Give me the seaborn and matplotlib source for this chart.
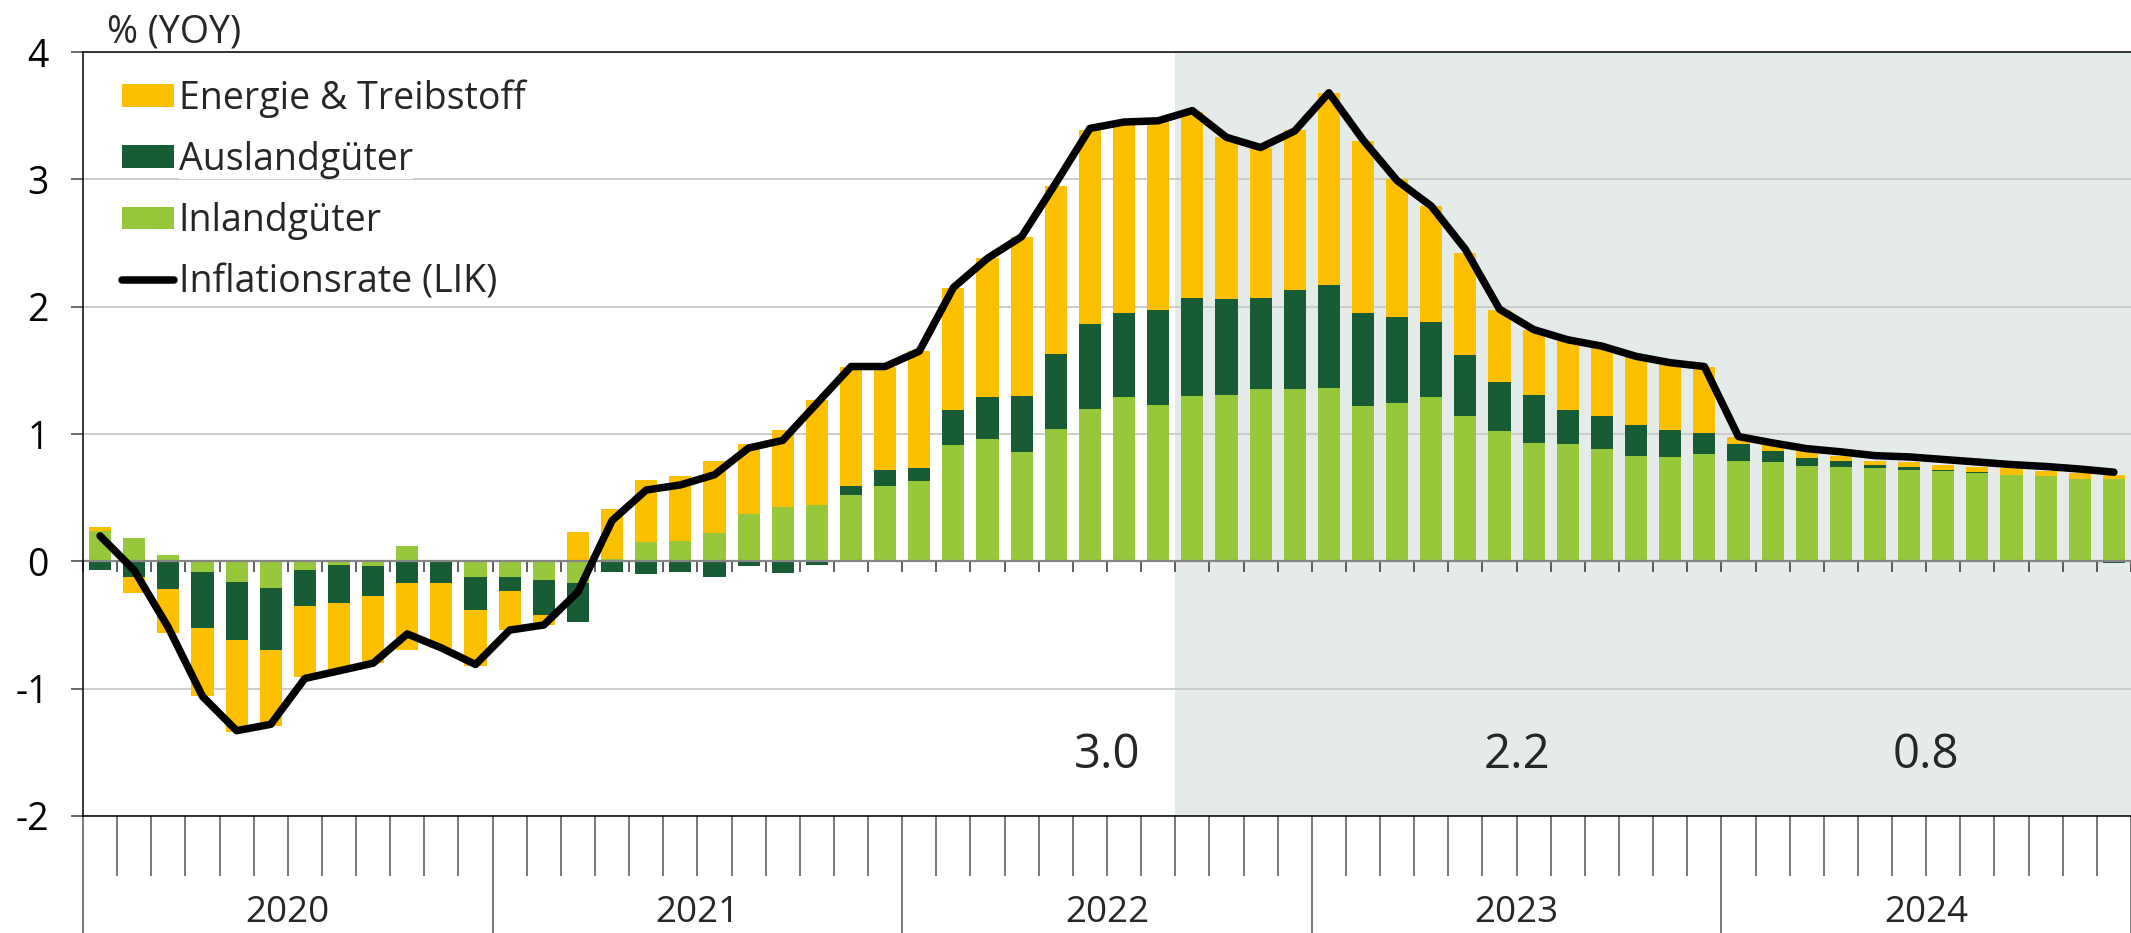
import numpy as np
import pandas as pd
import seaborn as sns
import matplotlib.pyplot as plt
from matplotlib.patches import Patch
from matplotlib.lines import Line2D

sns.set_theme(style='white')
plt.rcParams['font.family'] = ['Open Sans', 'DejaVu Sans']
plt.rcParams['axes.unicode_minus'] = False

# monthly contributions to CPI inflation, Jan 2020 - Dec 2024 (% yoy)
months = pd.date_range('2020-01-01', periods=60, freq='MS')
inland = [0.24, 0.18, 0.05, -0.08, -0.16, -0.21, -0.07, -0.03, -0.04, 0.12, 0.00, -0.12,
          -0.12, -0.15, -0.17, 0.02, 0.15, 0.16, 0.22, 0.37, 0.43, 0.44, 0.52, 0.59,
          0.63, 0.91, 0.96, 0.86, 1.04, 1.20, 1.29, 1.23, 1.30, 1.31, 1.35, 1.35,
          1.36, 1.22, 1.24, 1.29, 1.14, 1.02, 0.93, 0.92, 0.88, 0.83, 0.82, 0.84,
          0.79, 0.78, 0.75, 0.74, 0.73, 0.72, 0.71, 0.69, 0.68, 0.67, 0.65, 0.65]
ausland = [-0.07, -0.12, -0.22, -0.44, -0.46, -0.49, -0.28, -0.30, -0.23, -0.17, -0.17, -0.26,
           -0.11, -0.27, -0.31, -0.08, -0.10, -0.08, -0.12, -0.04, -0.09, -0.03, 0.07, 0.13,
           0.10, 0.28, 0.33, 0.44, 0.59, 0.66, 0.66, 0.74, 0.77, 0.75, 0.72, 0.78,
           0.81, 0.73, 0.68, 0.59, 0.48, 0.39, 0.38, 0.27, 0.26, 0.24, 0.21, 0.17,
           0.13, 0.09, 0.06, 0.05, 0.03, 0.02, 0.01, 0.01, 0.00, 0.00, 0.00, -0.01]
energie = [0.03, -0.13, -0.34, -0.54, -0.72, -0.59, -0.56, -0.52, -0.53, -0.53, -0.51, -0.44,
           -0.31, -0.08, 0.23, 0.39, 0.49, 0.51, 0.57, 0.55, 0.60, 0.83, 0.94, 0.81,
           0.92, 0.96, 1.09, 1.25, 1.32, 1.53, 1.49, 1.49, 1.46, 1.27, 1.18, 1.26,
           1.51, 1.35, 1.08, 0.91, 0.80, 0.56, 0.51, 0.55, 0.54, 0.54, 0.53, 0.52,
           0.06, 0.05, 0.07, 0.04, 0.03, 0.04, 0.04, 0.04, 0.05, 0.04, 0.04, 0.03]
lik = [0.20, -0.07, -0.52, -1.06, -1.33, -1.28, -0.92, -0.86, -0.80, -0.57, -0.68, -0.81,
       -0.54, -0.50, -0.24, 0.32, 0.56, 0.60, 0.68, 0.89, 0.95, 1.24, 1.53, 1.53,
       1.65, 2.15, 2.38, 2.55, 2.97, 3.40, 3.45, 3.46, 3.54, 3.33, 3.25, 3.38,
       3.68, 3.31, 2.99, 2.79, 2.45, 1.98, 1.82, 1.74, 1.69, 1.61, 1.56, 1.53,
       0.98, 0.93, 0.885, 0.86, 0.83, 0.82, 0.80, 0.78, 0.76, 0.745, 0.725, 0.70]
years = ['2020', '2021', '2022', '2023', '2024']
avg_years = ['2022', '2023', '2024']
avg_labels = ['3.0', '2.2', '0.8']
forecast_start = '2022-09'

series = [('Inlandgüter', inland, '#97C83C'),
          ('Auslandgüter', ausland, '#175C35'),
          ('Energie & Treibstoff', energie, '#FDC000')]

df = pd.DataFrame({'month': months, 'lik': lik})
df['pos'] = np.arange(len(df))
x = df['pos'].values

fig = plt.figure(figsize=(21.31, 9.33), dpi=100)
ax = fig.add_axes([83 / 2131, 1 - 816 / 933, 1 - 83 / 2131, (816 - 52) / 933])

# forecast shading
fc_idx = int(np.where(df['month'] == pd.Timestamp(forecast_start))[0][0])
ax.axvspan(fc_idx - 0.5, len(df) - 0.5, color='#E5EBE8', lw=0, zorder=0)

# stacked bars, positives up and negatives down
pos_bottom = np.zeros(len(df))
neg_bottom = np.zeros(len(df))
for name, vals, col in series:
    v = np.array(vals)
    bottom = np.where(v >= 0, pos_bottom, neg_bottom)
    ax.bar(x, v, bottom=bottom, width=0.65, color=col, lw=0, zorder=2)
    pos_bottom += np.where(v >= 0, v, 0)
    neg_bottom += np.where(v < 0, v, 0)

ax.axhline(0, color='#858585', lw=1.6, zorder=2.5)

sns.lineplot(data=df, x='pos', y='lik', ax=ax, color='black', lw=5.4,
             zorder=3, legend=False, solid_capstyle='round')

ax.set_xlim(-0.5, 59.1)
ax.set_ylim(-2, 4)
ax.set_xlabel('')
ax.set_ylabel('')

# y axis
ax.set_yticks(range(-2, 5))
ax.yaxis.grid(True, color='#C8C8C8', lw=1.3)
ax.xaxis.grid(False)
ax.set_axisbelow(True)
ax.tick_params(axis='y', left=True, length=8.6, width=1.1, color='#444444',
               labelsize=27, pad=16, labelcolor='black')

# x axis: year separators (long) and month ticks (short)
bounds = np.arange(-0.5, len(df), 1)
ax.set_xticks(bounds[::12])
ax.set_xticks(bounds, minor=True)
ax.tick_params(axis='x', which='major', bottom=True, length=92, width=1.1,
               color='#555555', labelbottom=False)
ax.tick_params(axis='x', which='minor', bottom=True, length=43, width=1.1,
               color='#555555')

for side in ['left', 'top', 'bottom']:
    ax.spines[side].set_visible(True)
    ax.spines[side].set_color('black')
    ax.spines[side].set_linewidth(1.1)
ax.spines['right'].set_visible(False)

# small month ticks hanging below the zero line
sec = ax.secondary_xaxis(1 / 3)
sec.set_xticks(bounds)
sec.tick_params(axis='x', length=8, width=1.1, color='#333333',
                labelbottom=False, labeltop=False)
for s in sec.spines.values():
    s.set_visible(False)

# year labels
for k, yr in enumerate(years):
    ax.text(12 * k + 5.5, -(922 - 816) / 764, yr, transform=ax.get_xaxis_transform(),
            ha='center', va='baseline', fontsize=26.5)

# annual averages
for yr, lab in zip(avg_years, avg_labels):
    k = years.index(yr)
    ax.text(12 * k + 5.5, -1.52, lab, ha='center', va='center', fontsize=34)

ax.text(0.0117, 1.012, '% (YOY)', transform=ax.transAxes, ha='left',
        va='baseline', fontsize=27)

handles = [Patch(color='#FDC000', lw=0), Patch(color='#175C35', lw=0),
           Patch(color='#97C83C', lw=0),
           Line2D([], [], color='black', lw=5.4, solid_capstyle='round')]
labels = ['Energie & Treibstoff', 'Auslandgüter', 'Inlandgüter', 'Inflationsrate (LIK)']
leg = ax.legend(handles, labels, loc='upper left', bbox_to_anchor=(0.0190, 0.9645),
                frameon=False, fontsize=27, handlelength=1.39, handleheight=0.56,
                handletextpad=0.12, labelspacing=0.62, borderaxespad=0, borderpad=0)
for t in leg.get_texts():
    t.set_bbox(dict(facecolor='white', edgecolor='none', pad=0))

fig.savefig('out.png', dpi=100)
